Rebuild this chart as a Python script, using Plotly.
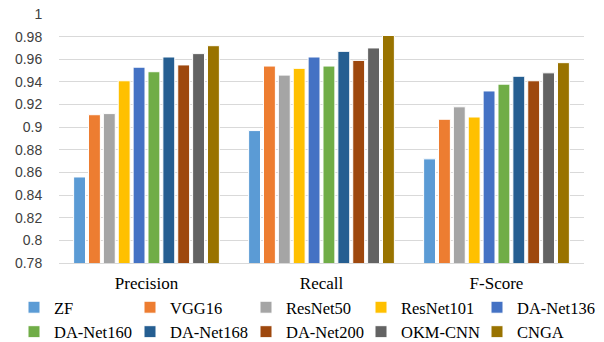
import plotly.graph_objects as go

categories = ["Precision", "Recall", "F-Score"]
models = ["ZF", "VGG16", "ResNet50", "ResNet101", "DA-Net136",
          "DA-Net160", "DA-Net168", "DA-Net200", "OKM-CNN", "CNGA"]
zf = [0.856, 0.897, 0.872]
vgg16 = [0.911, 0.954, 0.907]
resnet50 = [0.912, 0.946, 0.918]
resnet101 = [0.941, 0.952, 0.909]
danet136 = [0.953, 0.962, 0.932]
danet160 = [0.949, 0.954, 0.938]
danet168 = [0.962, 0.967, 0.945]
danet200 = [0.955, 0.959, 0.941]
okmcnn = [0.965, 0.970, 0.948]
cnga = [0.972, 0.981, 0.957]
series = [zf, vgg16, resnet50, resnet101, danet136, danet160, danet168, danet200, okmcnn, cnga]
colors = ["#5B9BD5", "#ED7D31", "#A5A5A5", "#FFC000", "#4472C4",
          "#70AD47", "#255E91", "#9E480E", "#636363", "#997300"]

legend_names = ["legend", "legend2", "legend3", "legend4", "legend5"]
legend_text_x = [52, 168, 284, 399, 515]

fig = go.Figure()
for i, (name, vals, c) in enumerate(zip(models, series, colors)):
    fig.add_trace(go.Bar(x=categories, y=vals, name=name, marker_color=c,
                         marker_line=dict(color="white", width=1),
                         legend=legend_names[i % 5]))

legend_common = dict(orientation="v", xref="container", yref="container",
                     yanchor="top", xanchor="left", y=1 - 290 / 342,
                     bgcolor="rgba(0,0,0,0)", itemwidth=30, tracegroupgap=0,
                     font=dict(family="Liberation Serif", size=16.5, color="#000000"))
legends = {}
for ln, tx in zip(legend_names, legend_text_x):
    legends[ln] = dict(legend_common, x=(tx - 38) / 604)

fig.update_layout(
    width=604, height=342,
    paper_bgcolor="white", plot_bgcolor="white",
    margin=dict(l=59, r=20, t=14, b=79, autoexpand=False),
    barmode="group", bargap=0.15, bargroupgap=0.2,
    font=dict(family="Liberation Serif", size=14, color="#000000"),
    yaxis=dict(range=[0.78, 1.0], dtick=0.02, tick0=0.78,
               showgrid=True, gridcolor="#D9D9D9", gridwidth=1,
               zeroline=False, showline=False,
               ticks="outside", ticklen=13, tickcolor="rgba(0,0,0,0)",
               tickfont=dict(family="Liberation Sans", size=14, color="#404040")),
    xaxis=dict(showline=True, linecolor="#D9D9D9", linewidth=1,
               ticks="outside", ticklen=5, tickcolor="rgba(0,0,0,0)",
               tickfont=dict(family="Liberation Serif", size=17, color="#000000")),
    **legends,
)
fig.write_html("out.html", config={"displayModeBar": False},
               post_script="document.body.style.margin='0';")
